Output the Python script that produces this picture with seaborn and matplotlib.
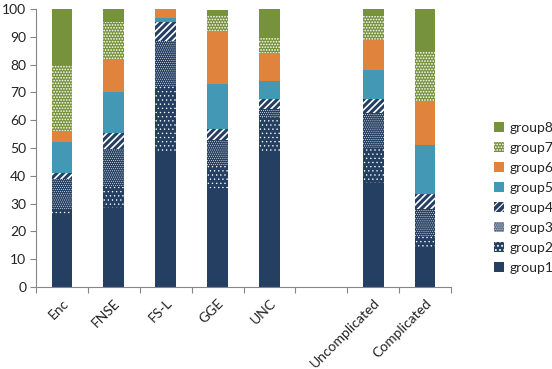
import numpy as np
import pandas as pd
import matplotlib
matplotlib.use("Agg")
import matplotlib.pyplot as plt
import seaborn as sns
from matplotlib.patches import Patch

categories = ["Enc", "FNSE", "FS-L", "GGE", "UNC", " ", "Uncomplicated", "Complicated"]
groups = ["group1", "group2", "group3", "group4", "group5", "group6", "group7", "group8"]

group1 = [26.0, 28.5, 49.0, 35.0, 49.0, 0, 37.5, 14.0]
group2 = [2.0, 7.5, 23.3, 9.0, 12.0, 0, 12.5, 4.5]
group3 = [11.0, 13.5, 16.3, 9.0, 3.0, 0, 12.5, 9.5]
group4 = [2.0, 6.0, 6.8, 4.0, 3.5, 0, 5.0, 5.5]
group5 = [11.0, 14.5, 1.2, 16.0, 6.5, 0, 10.5, 17.5]
group6 = [4.0, 12.0, 3.4, 19.0, 10.0, 0, 11.0, 16.0]
group7 = [24.0, 13.5, 0.0, 6.0, 6.0, 0, 8.5, 18.0]
group8 = [20.0, 4.5, 0.0, 1.5, 10.0, 0, 2.5, 15.0]

series = [group1, group2, group3, group4, group5, group6, group7, group8]

navy = "#253F62"
teal = "#4298B5"
orange = "#E0843D"
green = "#76923C"
styles = {
    "group1": dict(face=navy, hatch=None, hlw=0.5),
    "group2": dict(face=navy, hatch="....", hlw=0.45),
    "group3": dict(face=navy, hatch="........", hlw=0.35),
    "group4": dict(face=navy, hatch="/////", hlw=1.2),
    "group5": dict(face=teal, hatch=None, hlw=0.5),
    "group6": dict(face=orange, hatch=None, hlw=0.5),
    "group7": dict(face=green, hatch="......", hlw=0.8),
    "group8": dict(face=green, hatch=None, hlw=0.5),
}

sns.set_theme(style="white")
plt.rcParams["font.family"] = ["Lato", "DejaVu Sans"]


def apply_hatch(p, st):
    if st["hatch"]:
        if hasattr(p, "set_hatch_linewidth"):
            p.set_hatch_linewidth(st["hlw"])
        p.set_hatch(st["hatch"])


fig = plt.figure(figsize=(5.52, 3.69), dpi=100)
ax = fig.add_axes([36 / 552, 1 - 287 / 369, (451 - 36) / 552, (287 - 9) / 369])

bottom = np.zeros(len(categories))
handles = []
for g, vals in zip(groups, series):
    df = pd.DataFrame({"cat": categories, "val": vals})
    st = styles[g]
    plt.rcParams["hatch.linewidth"] = st["hlw"]
    n_before = len(ax.patches)
    sns.barplot(data=df, x="cat", y="val", order=categories, ax=ax,
                color=st["face"], width=0.4, bottom=bottom, saturation=1,
                errorbar=None, linewidth=0, edgecolor="white")
    for p in ax.patches[n_before:]:
        p.set_facecolor(st["face"])
        p.set_edgecolor("white")
        p.set_linewidth(0)
        apply_hatch(p, st)
    bottom = bottom + np.array(vals)
    h = Patch(facecolor=st["face"], edgecolor="white", linewidth=0, label=g)
    apply_hatch(h, st)
    handles.append(h)

ax.set_ylim(0, 100)
ax.set_xlim(-0.5, len(categories) - 0.5)
ax.set_yticks(np.arange(0, 101, 10))
ax.set_xlabel("")
ax.set_ylabel("")
for s in ["top", "right"]:
    ax.spines[s].set_visible(False)
for s in ["left", "bottom"]:
    ax.spines[s].set_color("#868686")
    ax.spines[s].set_linewidth(0.8)

ax.set_xticks(np.arange(len(categories)))
ax.set_xticklabels(categories, rotation=45, ha="right", rotation_mode="anchor",
                   fontsize=10, color="#222222")
ax.set_xticks(np.arange(-0.5, len(categories)), minor=True)
ax.tick_params(axis="x", which="major", length=0, pad=7)
ax.tick_params(axis="x", which="minor", length=4, color="#868686", width=0.8,
               direction="out", bottom=True)
ax.tick_params(axis="y", length=4, color="#868686", width=0.8, direction="out",
               left=True, labelsize=10, labelcolor="#222222", pad=3)

plt.rcParams["hatch.linewidth"] = 0.8
leg = fig.legend(handles=handles[::-1], loc="center left",
                 bbox_to_anchor=(494 / 552, 1 - 198 / 369), frameon=False,
                 fontsize=10, handlelength=0.75, handleheight=0.75,
                 handletextpad=0.35, labelspacing=0.58, borderpad=0,
                 borderaxespad=0)

fig.savefig("out.png", dpi=100)
